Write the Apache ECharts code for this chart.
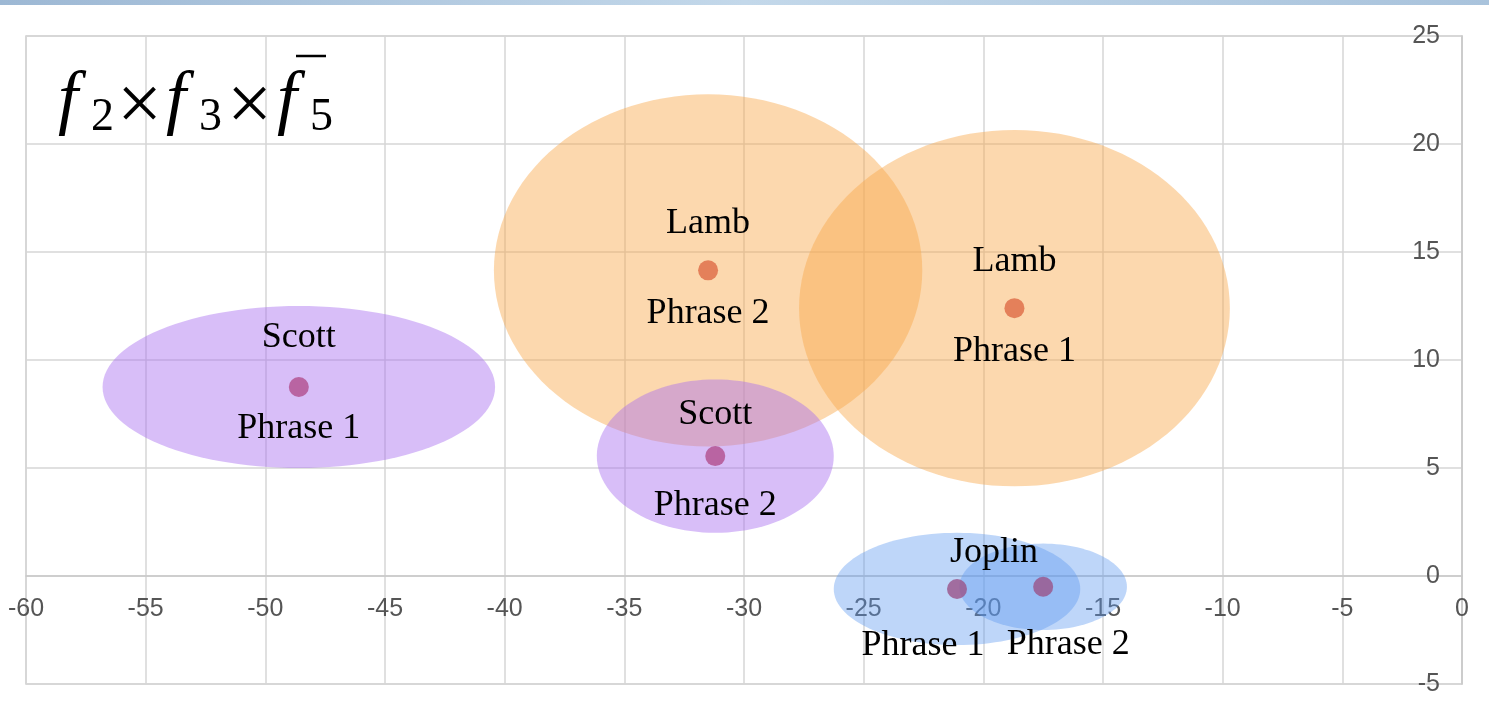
<!DOCTYPE html>
<html>
<head>
<meta charset="utf-8">
<script src="https://cdn.jsdelivr.net/npm/echarts@6/dist/echarts.min.js"></script>
<style>
  html, body { margin: 0; padding: 0; background: #fff; }
  #chart { width: 1489px; height: 713px; }
</style>
</head>
<body>
<div id="chart"></div>
<script>
// Phrase bubbles: centre of each phrase and its spread along both axes
const composers = ['Lamb', 'Lamb', 'Scott', 'Scott', 'Joplin', 'Joplin'];
const phrases   = ['Phrase 2', 'Phrase 1', 'Phrase 1', 'Phrase 2', 'Phrase 1', 'Phrase 2'];
const centerX   = [-31.5, -18.7, -48.6, -31.2, -21.1, -17.5];
const centerY   = [14.15, 12.4, 8.75, 5.55, -0.6, -0.5];
const spreadX   = [8.95, 9.0, 8.2, 4.95, 5.15, 3.5];
const spreadY   = [8.15, 8.25, 3.75, 3.55, 2.6, 2.0];

// Axis ticks
const xTicks = [-60, -55, -50, -45, -40, -35, -30, -25, -20, -15, -10, -5, 0];
const yTicks = [-5, 0, 5, 10, 15, 20, 25];

const fillColor = { Lamb: 'rgba(249,169,75,0.45)', Scott: 'rgba(168,110,240,0.45)', Joplin: 'rgba(92,153,240,0.4)' };
const dotColor  = { Lamb: '#dd6a45', Scott: '#b24e8c', Joplin: '#9a5288' };

const rows = composers.map((c, i) => [centerX[i], centerY[i], spreadX[i], spreadY[i], i]);

// label placement around each dot, in pixels: [name offset, phrase offset]
const labelPlacement = {
  'Lamb|Phrase 2':   [[0, -47], [0, 43]],
  'Lamb|Phrase 1':   [[0, -47], [0, 43]],
  'Scott|Phrase 1':  [[0, -49], [0, 42]],
  'Scott|Phrase 2':  [[0, -42], [0, 49]],
  'Joplin|Phrase 1': [[37, -36], [-34, 57]],
  'Joplin|Phrase 2': [null, [25, 58]]
};
function nameLabel(i) {
  const off = labelPlacement[composers[i] + '|' + phrases[i]][0];
  return off ? { offset: off } : { show: false };
}
function phraseLabel(i) {
  return { offset: labelPlacement[composers[i] + '|' + phrases[i]][1] };
}

const textFont = {
  fontFamily: '"Liberation Serif", "Times New Roman", serif', fontSize: 36,
  color: '#000', opacity: 1, textBorderWidth: 0, align: 'center', verticalAlign: 'middle'
};

// plot box
const gridBox = { left: 26, right: 27, top: 36, bottom: 29 };
const plotHeight = 713 - gridBox.top - gridBox.bottom;
const yMin = yTicks[0], yMax = yTicks[yTicks.length - 1];
// x axis runs along y = 0
const xAxisLift = -plotHeight * (0 - yMin) / (yMax - yMin);

const chart = echarts.init(document.getElementById('chart'), null, { renderer: 'canvas' });

chart.setOption({
  animation: false,
  backgroundColor: '#fff',
  grid: Object.assign({
    show: true, borderColor: '#cfcfcf', borderWidth: 1.5, outerBoundsMode: 'none', containLabel: false
  }, gridBox),
  xAxis: {
    type: 'value', min: xTicks[0], max: xTicks[xTicks.length - 1], interval: 5,
    position: 'bottom', offset: xAxisLift,
    axisLine: { show: true, onZero: false, lineStyle: { color: '#c8c8c8', width: 1.5 } },
    axisTick: { show: false },
    splitLine: { lineStyle: { color: '#d6d6d6', width: 1.5 } },
    axisLabel: { margin: 21, fontSize: 25, color: '#555', fontFamily: 'Liberation Sans, Arial, sans-serif' }
  },
  yAxis: {
    type: 'value', position: 'right', min: yMin, max: yMax, interval: 5,
    axisLine: { show: true, onZero: false, lineStyle: { color: '#c8c8c8', width: 1.5 } },
    axisTick: { show: false },
    splitLine: { lineStyle: { color: '#d6d6d6', width: 1.5 } },
    axisLabel: { inside: true, margin: 22, fontSize: 25, color: '#555', fontFamily: 'Liberation Sans, Arial, sans-serif' }
  },
  graphic: [
    {
      type: 'rect', left: 0, top: 0, z: 10,
      shape: { width: 1489, height: 5 },
      style: {
        fill: new echarts.graphic.LinearGradient(0, 0, 1, 0, [
          { offset: 0, color: '#9db8d4' },
          { offset: 0.5, color: '#c3d8ea' },
          { offset: 1, color: '#a9c3dc' }
        ])
      }
    },
    // f2 × f3 × f̄5
    { type: 'text', x: 58, y: 66, z: 10, style: { text: 'f', font: 'italic 72px "Liberation Serif", serif', fill: '#000' } },
    { type: 'text', x: 91, y: 95, z: 10, style: { text: '2', font: '46px "Liberation Serif", serif', fill: '#000' } },
    { type: 'text', x: 117, y: 69, z: 10, style: { text: '×', font: '80px "Liberation Serif", serif', fill: '#000' } },
    { type: 'text', x: 166, y: 66, z: 10, style: { text: 'f', font: 'italic 72px "Liberation Serif", serif', fill: '#000' } },
    { type: 'text', x: 199, y: 95, z: 10, style: { text: '3', font: '46px "Liberation Serif", serif', fill: '#000' } },
    { type: 'text', x: 227, y: 69, z: 10, style: { text: '×', font: '80px "Liberation Serif", serif', fill: '#000' } },
    { type: 'text', x: 277, y: 66, z: 10, style: { text: 'f', font: 'italic 72px "Liberation Serif", serif', fill: '#000' } },
    { type: 'text', x: 310, y: 95, z: 10, style: { text: '5', font: '46px "Liberation Serif", serif', fill: '#000' } },
    { type: 'line', z: 10, shape: { x1: 296, y1: 56, x2: 326, y2: 56 }, style: { stroke: '#000', lineWidth: 2.5 } }
  ],
  series: [
    {
      type: 'custom',
      coordinateSystem: 'cartesian2d',
      encode: { x: 0, y: 1 },
      silent: true,
      z: 3,
      data: rows,
      renderItem: function (params, api) {
        const cx = api.value(0), cy = api.value(1), rx = api.value(2), ry = api.value(3);
        const i = api.value(4);
        const pts = [];
        for (let k = 0; k < 120; k++) {
          const t = (k / 120) * Math.PI * 2;
          pts.push(api.coord([cx + rx * Math.cos(t), cy + ry * Math.sin(t)]));
        }
        return {
          type: 'polygon',
          shape: { points: pts },
          style: { fill: fillColor[composers[i]], stroke: 'none' }
        };
      }
    },
    {
      type: 'scatter',
      z: 4,
      symbolSize: 20,
      silent: true,
      data: rows.map((r, i) => ({ value: [r[0], r[1]], itemStyle: { color: dotColor[composers[i]] } }))
    },
    {
      type: 'scatter',
      z: 5,
      symbolSize: 1,
      itemStyle: { opacity: 0 },
      silent: true,
      data: rows.map((r, i) => ({
        value: [r[0], r[1]],
        label: Object.assign({ show: true, position: 'inside', formatter: composers[i] }, textFont, nameLabel(i))
      }))
    },
    {
      type: 'scatter',
      z: 5,
      symbolSize: 1,
      itemStyle: { opacity: 0 },
      silent: true,
      data: rows.map((r, i) => ({
        value: [r[0], r[1]],
        label: Object.assign({ show: true, position: 'inside', formatter: phrases[i] }, textFont, phraseLabel(i))
      }))
    }
  ]
});
</script>
</body>
</html>
